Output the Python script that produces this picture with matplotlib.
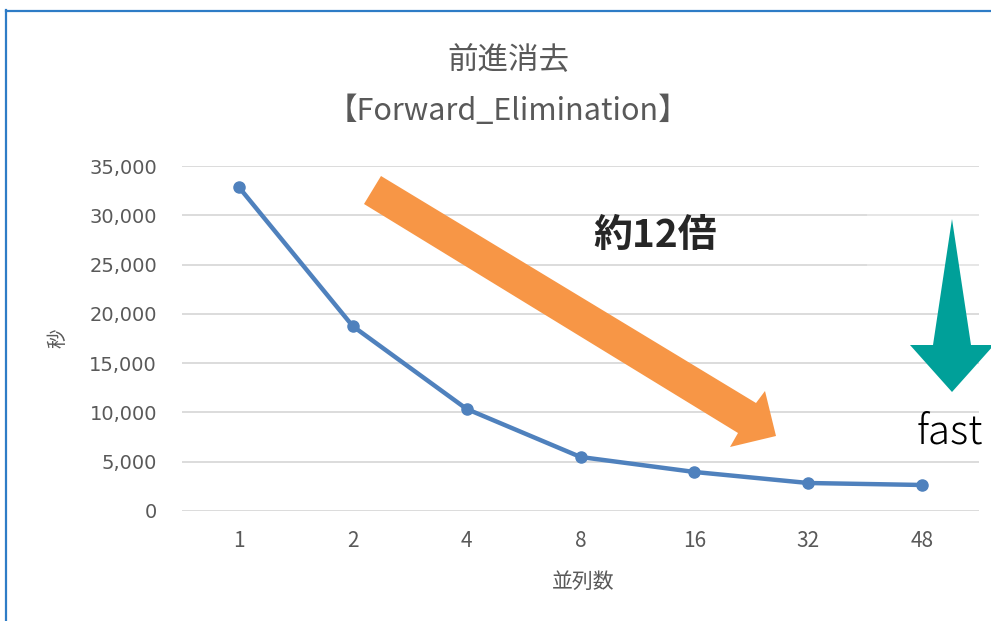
import matplotlib
matplotlib.use("Agg")
import matplotlib.pyplot as plt
from matplotlib.patches import Polygon, Rectangle
from matplotlib.lines import Line2D
from matplotlib.ticker import FuncFormatter

# Data
categories = ["1", "2", "4", "8", "16", "32", "48"]
seconds = [32850, 18750, 10350, 5480, 3960, 2840, 2640]
y_ticks = [0, 5000, 10000, 15000, 20000, 25000, 30000, 35000]

title_line1 = "前進消去"
title_line2 = "【Forward_Elimination】"
x_label = "並列数"
y_label = "秒"
speedup_text = "約12倍"
fast_text = "fast"

W, H = 991, 621
fig = plt.figure(figsize=(W / 100, H / 100), dpi=100)
fig.patch.set_facecolor("white")

JP = ["Noto Sans CJK JP", "DejaVu Sans"]
GRAY = "#595959"


def px(x, y):
    """Figure pixel position (origin top-left) to figure fraction."""
    return x / W, 1 - y / H


ax = fig.add_axes([182 / W, (H - 511) / H, 797 / W, 345 / H])
xs = list(range(len(categories)))
ax.plot(xs, seconds, color="#4F81BD", linewidth=3.2, marker="o",
        markersize=8, solid_capstyle="round", zorder=3)

ax.set_xlim(-0.5, len(categories) - 0.5)
ax.set_ylim(0, 35000)
ax.set_yticks(y_ticks)
ax.yaxis.set_major_formatter(FuncFormatter(lambda v, p: f"{int(v):,}"))
ax.set_xticks(xs)
ax.set_xticklabels(categories)
ax.grid(axis="y", color="#D9D9D9", linewidth=1.3)
ax.set_axisbelow(True)
for s in ax.spines.values():
    s.set_visible(False)
ax.tick_params(length=0, colors=GRAY, labelsize=14)
ax.tick_params(axis="y", pad=18)
ax.tick_params(axis="x", pad=14)
for lab in ax.get_xticklabels():
    lab.set_family(JP)
    lab.set_fontsize(15)
for lab in ax.get_yticklabels():
    lab.set_family(["DejaVu Sans"])

# Titles and axis labels
fig.text(*px(508, 60), title_line1, ha="center", va="center",
         fontsize=22, color=GRAY, family=JP)
fig.text(*px(508, 111), title_line2, ha="center", va="center",
         fontsize=22, color=GRAY, family=JP)
fig.text(*px(583, 582), x_label, ha="center", va="center",
         fontsize=15, color=GRAY, family=JP)
fig.text(*px(58, 338), y_label, ha="center", va="center", rotation=90,
         fontsize=14, color=GRAY, family=JP)

# Light veil behind the teal arrow
veil = Rectangle(px(867, 272), 124 / W, 66 / H, transform=fig.transFigure,
                 facecolor="white", alpha=0.3, edgecolor="none", zorder=4)
fig.add_artist(veil)

# Orange block arrow
orange_pts = [(381, 176), (756, 403), (765, 391), (776, 436),
              (730, 447), (738, 433), (364, 204)]
fig.add_artist(Polygon([px(*p) for p in orange_pts], closed=True,
                       transform=fig.transFigure, facecolor="#F79646",
                       edgecolor="none", zorder=5))

# Teal downward arrow
teal_pts = [(952, 219), (971, 345), (994, 345), (952, 392),
            (910, 345), (933, 345)]
fig.add_artist(Polygon([px(*p) for p in teal_pts], closed=True,
                       transform=fig.transFigure, facecolor="#00A099",
                       edgecolor="none", zorder=5))

fig.text(*px(655, 236), speedup_text, ha="center", va="center",
         fontsize=28, fontweight="bold", color="#262626", family=JP, zorder=6)
fig.text(*px(950, 433), fast_text, ha="center", va="center",
         fontsize=29, fontweight="light", color="black", family=JP, zorder=6)

# Chart area frame
frame_color = "#2E7CC6"
fig.add_artist(Line2D([6 / W, 6 / W], [0, 1 - 10 / H], transform=fig.transFigure,
                      color=frame_color, linewidth=1.6))
fig.add_artist(Line2D([6 / W, 1], [1 - 11 / H, 1 - 11 / H], transform=fig.transFigure,
                      color=frame_color, linewidth=1.6))

fig.savefig("out.png", dpi=100)
